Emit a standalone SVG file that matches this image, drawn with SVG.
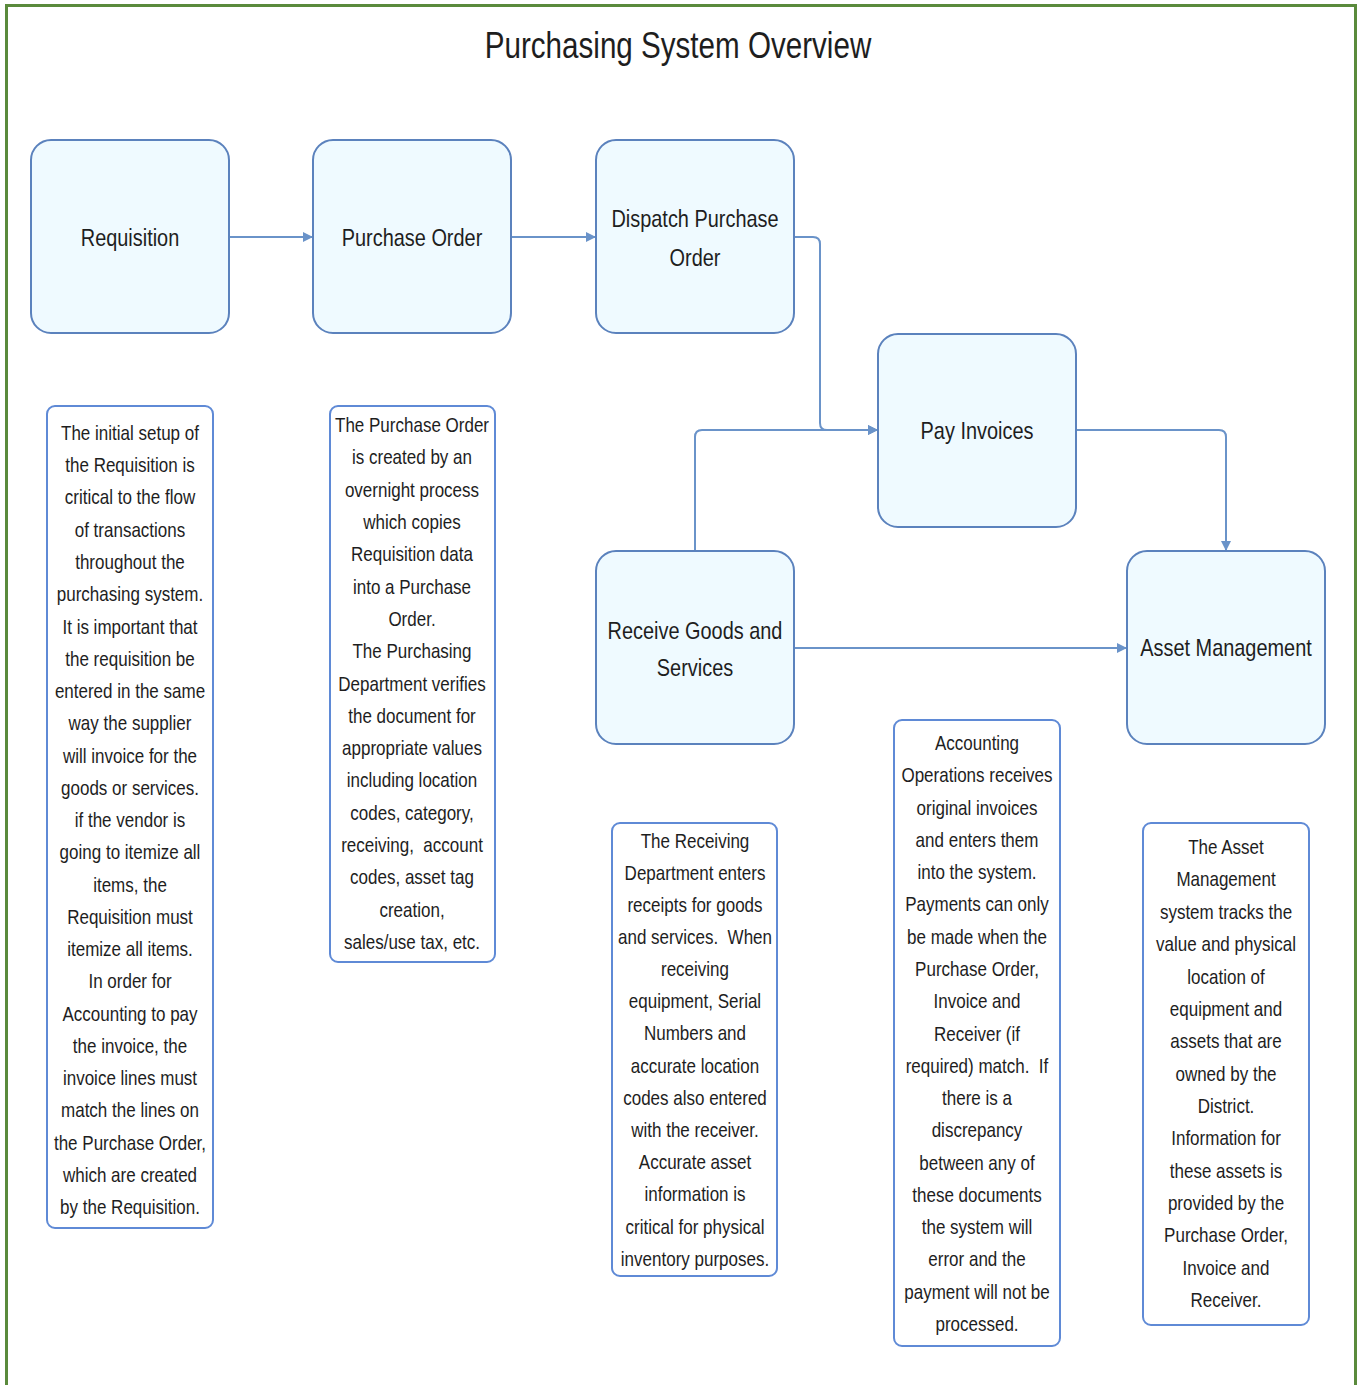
<svg xmlns="http://www.w3.org/2000/svg" width="1362" height="1385" viewBox="0 0 1362 1385">
<style>
  .frame{fill:#ffffff;stroke:#5a8a3c;stroke-width:3}
  .node{fill:#effaff;stroke:#5b82bd;stroke-width:2}
  .note{fill:#ffffff;stroke:#5f8ad6;stroke-width:2}
  .conn{fill:none;stroke:#6a93c9;stroke-width:2}
  text{font-family:"Liberation Sans",Arial,sans-serif;fill:#1e1e1e;text-anchor:middle}
  .title{font-size:37px}
  .nt{font-size:24px}
  .bt{font-size:21px;white-space:pre}
</style>
<defs>
  <marker id="arr" markerUnits="userSpaceOnUse" markerWidth="10" markerHeight="10" refX="10" refY="5" orient="auto">
    <path d="M0,0 L10,5 L0,10 z" fill="#6a93c9"/>
  </marker>
</defs>
<rect x="0" y="0" width="1362" height="1385" fill="#ffffff"/>
<rect class="frame" x="6.5" y="5.5" width="1349" height="1400"/>
<g id="title" transform="translate(678,0) scale(0.8,1)">
  <text class="title" x="0" y="58">Purchasing System Overview</text>
</g>

<g id="connectors">
  <path class="conn" d="M229,237 H313" marker-end="url(#arr)"/>
  <path class="conn" d="M511,237 H596" marker-end="url(#arr)"/>
  <path class="conn" d="M794,237 H813 Q820,237 820,244 V423 Q820,430 827,430 H878" marker-end="url(#arr)"/>
  <path class="conn" d="M695,551 V437 Q695,430 702,430 H878" marker-end="url(#arr)"/>
  <path class="conn" d="M1076,430 H1219 Q1226,430 1226,437 V551" marker-end="url(#arr)"/>
  <path class="conn" d="M794,648 H1127" marker-end="url(#arr)"/>
</g>

<g id="requisition">
  <rect class="node" x="31" y="140" width="198" height="193" rx="20"/>
  <g transform="translate(130,0) scale(0.83,1)"><text class="nt" x="0" y="246">Requisition</text></g>
</g>
<g id="purchase-order">
  <rect class="node" x="313" y="140" width="198" height="193" rx="20"/>
  <g transform="translate(412,0) scale(0.83,1)"><text class="nt" x="0" y="246">Purchase Order</text></g>
</g>
<g id="dispatch">
  <rect class="node" x="596" y="140" width="198" height="193" rx="20"/>
  <g transform="translate(695,0) scale(0.83,1)">
    <text class="nt" x="0" y="227">Dispatch Purchase</text>
    <text class="nt" x="0" y="266">Order</text>
  </g>
</g>
<g id="pay-invoices">
  <rect class="node" x="878" y="334" width="198" height="193" rx="20"/>
  <g transform="translate(977,0) scale(0.83,1)"><text class="nt" x="0" y="439">Pay Invoices</text></g>
</g>
<g id="receive">
  <rect class="node" x="596" y="551" width="198" height="193" rx="20"/>
  <g transform="translate(695,0) scale(0.83,1)">
    <text class="nt" x="0" y="639">Receive Goods and</text>
    <text class="nt" x="0" y="676">Services</text>
  </g>
</g>
<g id="asset-management">
  <rect class="node" x="1127" y="551" width="198" height="193" rx="20"/>
  <g transform="translate(1226,0) scale(0.83,1)"><text class="nt" x="0" y="656">Asset Management</text></g>
</g>

<g id="note-requisition">
  <rect class="note" x="47" y="406" width="166" height="822" rx="8"/>
  <g transform="translate(130,0) scale(0.81,1)">
    <text class="bt" x="0" y="440">The initial setup of</text>
    <text class="bt" x="0" y="472">the Requisition is</text>
    <text class="bt" x="0" y="504">critical to the flow</text>
    <text class="bt" x="0" y="537">of transactions</text>
    <text class="bt" x="0" y="569">throughout the</text>
    <text class="bt" x="0" y="601">purchasing system.</text>
    <text class="bt" x="0" y="634">It is important that</text>
    <text class="bt" x="0" y="666">the requisition be</text>
    <text class="bt" x="0" y="698">entered in the same</text>
    <text class="bt" x="0" y="730">way the supplier</text>
    <text class="bt" x="0" y="763">will invoice for the</text>
    <text class="bt" x="0" y="795">goods or services.</text>
    <text class="bt" x="0" y="827">if the vendor is</text>
    <text class="bt" x="0" y="859">going to itemize all</text>
    <text class="bt" x="0" y="892">items, the</text>
    <text class="bt" x="0" y="924">Requisition must</text>
    <text class="bt" x="0" y="956">itemize all items.</text>
    <text class="bt" x="0" y="988">In order for</text>
    <text class="bt" x="0" y="1021">Accounting to pay</text>
    <text class="bt" x="0" y="1053">the invoice, the</text>
    <text class="bt" x="0" y="1085">invoice lines must</text>
    <text class="bt" x="0" y="1117">match the lines on</text>
    <text class="bt" x="0" y="1150">the Purchase Order,</text>
    <text class="bt" x="0" y="1182">which are created</text>
    <text class="bt" x="0" y="1214">by the Requisition.</text>
  </g>
</g>

<g id="note-purchase-order">
  <rect class="note" x="330" y="406" width="165" height="556" rx="8"/>
  <g transform="translate(412,0) scale(0.81,1)">
    <text class="bt" x="0" y="432">The Purchase Order</text>
    <text class="bt" x="0" y="464">is created by an</text>
    <text class="bt" x="0" y="497">overnight process</text>
    <text class="bt" x="0" y="529">which copies</text>
    <text class="bt" x="0" y="561">Requisition data</text>
    <text class="bt" x="0" y="594">into a Purchase</text>
    <text class="bt" x="0" y="626">Order.</text>
    <text class="bt" x="0" y="658">The Purchasing</text>
    <text class="bt" x="0" y="691">Department verifies</text>
    <text class="bt" x="0" y="723">the document for</text>
    <text class="bt" x="0" y="755">appropriate values</text>
    <text class="bt" x="0" y="787">including location</text>
    <text class="bt" x="0" y="820">codes, category,</text>
    <text class="bt" x="0" y="852">receiving,  account</text>
    <text class="bt" x="0" y="884">codes, asset tag</text>
    <text class="bt" x="0" y="917">creation,</text>
    <text class="bt" x="0" y="949">sales/use tax, etc.</text>
  </g>
</g>

<g id="note-receive">
  <rect class="note" x="612" y="823" width="165" height="453" rx="8"/>
  <g transform="translate(695,0) scale(0.81,1)">
    <text class="bt" x="0" y="848">The Receiving</text>
    <text class="bt" x="0" y="880">Department enters</text>
    <text class="bt" x="0" y="912">receipts for goods</text>
    <text class="bt" x="0" y="944">and services.  When</text>
    <text class="bt" x="0" y="976">receiving</text>
    <text class="bt" x="0" y="1008">equipment, Serial</text>
    <text class="bt" x="0" y="1040">Numbers and</text>
    <text class="bt" x="0" y="1073">accurate location</text>
    <text class="bt" x="0" y="1105">codes also entered</text>
    <text class="bt" x="0" y="1137">with the receiver.</text>
    <text class="bt" x="0" y="1169">Accurate asset</text>
    <text class="bt" x="0" y="1201">information is</text>
    <text class="bt" x="0" y="1234">critical for physical</text>
    <text class="bt" x="0" y="1266">inventory purposes.</text>
  </g>
</g>

<g id="note-pay-invoices">
  <rect class="note" x="894" y="720" width="166" height="626" rx="8"/>
  <g transform="translate(977,0) scale(0.81,1)">
    <text class="bt" x="0" y="750">Accounting</text>
    <text class="bt" x="0" y="782">Operations receives</text>
    <text class="bt" x="0" y="815">original invoices</text>
    <text class="bt" x="0" y="847">and enters them</text>
    <text class="bt" x="0" y="879">into the system.</text>
    <text class="bt" x="0" y="911">Payments can only</text>
    <text class="bt" x="0" y="944">be made when the</text>
    <text class="bt" x="0" y="976">Purchase Order,</text>
    <text class="bt" x="0" y="1008">Invoice and</text>
    <text class="bt" x="0" y="1041">Receiver (if</text>
    <text class="bt" x="0" y="1073">required) match.  If</text>
    <text class="bt" x="0" y="1105">there is a</text>
    <text class="bt" x="0" y="1137">discrepancy</text>
    <text class="bt" x="0" y="1170">between any of</text>
    <text class="bt" x="0" y="1202">these documents</text>
    <text class="bt" x="0" y="1234">the system will</text>
    <text class="bt" x="0" y="1266">error and the</text>
    <text class="bt" x="0" y="1299">payment will not be</text>
    <text class="bt" x="0" y="1331">processed.</text>
  </g>
</g>

<g id="note-asset">
  <rect class="note" x="1143" y="823" width="166" height="502" rx="8"/>
  <g transform="translate(1226,0) scale(0.81,1)">
    <text class="bt" x="0" y="854">The Asset</text>
    <text class="bt" x="0" y="886">Management</text>
    <text class="bt" x="0" y="919">system tracks the</text>
    <text class="bt" x="0" y="951">value and physical</text>
    <text class="bt" x="0" y="984">location of</text>
    <text class="bt" x="0" y="1016">equipment and</text>
    <text class="bt" x="0" y="1048">assets that are</text>
    <text class="bt" x="0" y="1081">owned by the</text>
    <text class="bt" x="0" y="1113">District.</text>
    <text class="bt" x="0" y="1145">Information for</text>
    <text class="bt" x="0" y="1178">these assets is</text>
    <text class="bt" x="0" y="1210">provided by the</text>
    <text class="bt" x="0" y="1242">Purchase Order,</text>
    <text class="bt" x="0" y="1275">Invoice and</text>
    <text class="bt" x="0" y="1307">Receiver.</text>
  </g>
</g>
</svg>
